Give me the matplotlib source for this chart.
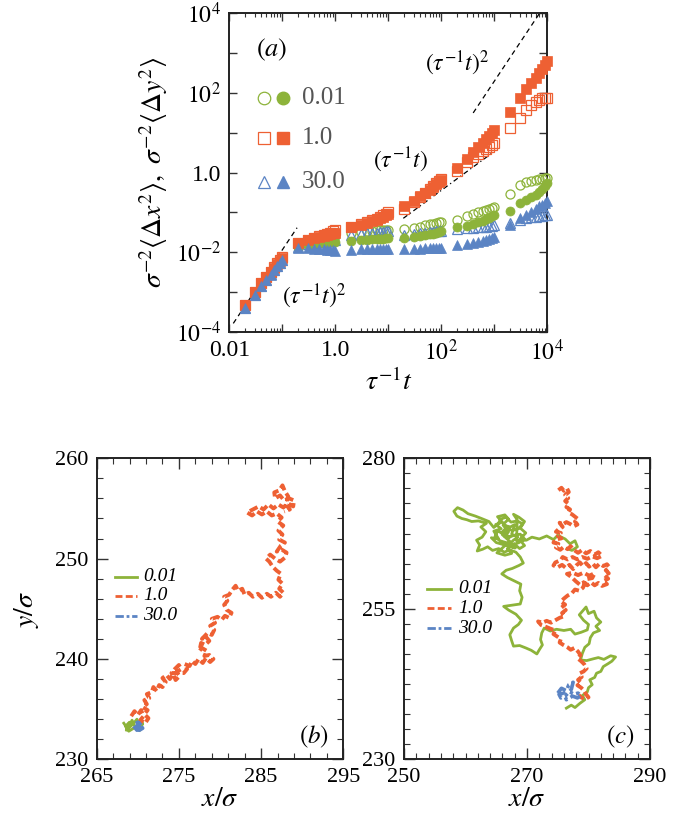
import matplotlib
matplotlib.use("Agg")
import matplotlib.pyplot as plt
from matplotlib.ticker import FixedLocator, FixedFormatter, LogLocator, NullFormatter, NullLocator, MultipleLocator

plt.rcParams['font.family'] = ['Liberation Serif', 'DejaVu Serif']
plt.rcParams['mathtext.fontset'] = 'stix'

GREEN = '#8db33a'
RED = '#ee6033'
BLUE = '#5b84c4'

# ==========================
# Panel (a) data: MSD vs tau^-1 t
# ==========================
t_vals = [0.02, 0.03, 0.04, 0.05, 0.06, 0.07, 0.08, 0.09, 0.1,
          0.2, 0.3, 0.4, 0.5, 0.6, 0.7, 0.8, 0.9, 1.0,
          2, 3, 4, 5, 6, 7, 8, 9, 10,
          20, 30, 40, 50, 60, 70, 80, 90, 100,
          200, 300, 400, 500, 600, 700, 800, 900, 1000,
          2000, 3000, 4000, 5000, 6000, 7000, 8000, 9000, 10000]

# open = <dx^2>, filled = <dy^2>
msd_001_open = [4.3e-4, 9.2e-4, 1.55e-3, 2.15e-3, 3.0e-3, 3.9e-3, 4.8e-3, 5.8e-3, 6.9e-3,
                0.014, 0.017, 0.019, 0.020, 0.021, 0.022, 0.023, 0.024, 0.025,
                0.030, 0.032, 0.033, 0.034, 0.035, 0.035, 0.036, 0.037, 0.037,
                0.038, 0.041, 0.044, 0.047, 0.050, 0.052, 0.054, 0.056, 0.058,
                0.064, 0.080, 0.090, 0.100, 0.108, 0.115, 0.122, 0.130, 0.138,
                0.29, 0.49, 0.58, 0.62, 0.65, 0.68, 0.70, 0.71, 0.72]
msd_001_fill = [4.2e-4, 9.0e-4, 1.5e-3, 2.1e-3, 2.9e-3, 3.8e-3, 4.7e-3, 5.7e-3, 6.7e-3,
                0.0135, 0.015, 0.016, 0.0165, 0.017, 0.017, 0.0175, 0.0175, 0.018,
                0.019, 0.020, 0.020, 0.021, 0.021, 0.021, 0.021, 0.022, 0.022,
                0.022, 0.024, 0.026, 0.027, 0.028, 0.029, 0.031, 0.032, 0.033,
                0.044, 0.046, 0.052, 0.057, 0.062, 0.068, 0.074, 0.080, 0.086,
                0.11, 0.17, 0.20, 0.24, 0.28, 0.33, 0.38, 0.45, 0.55]
msd_1_open = [4.6e-4, 1.0e-3, 1.7e-3, 2.4e-3, 3.25e-3, 4.2e-3, 5.2e-3, 6.3e-3, 7.5e-3,
              0.0165, 0.020, 0.022, 0.025, 0.027, 0.029, 0.031, 0.033, 0.035,
              0.044, 0.050, 0.057, 0.063, 0.069, 0.076, 0.084, 0.092, 0.100,
              0.12, 0.18, 0.24, 0.31, 0.38, 0.45, 0.53, 0.61, 0.70,
              1.1, 1.8, 2.4, 3.0, 3.5, 4.0, 4.5, 5.0, 5.4,
              13, 24, 37, 50, 60, 68, 73, 75, 75]
msd_1_fill = [4.6e-4, 1.0e-3, 1.65e-3, 2.35e-3, 3.2e-3, 4.1e-3, 5.1e-3, 6.1e-3, 7.3e-3,
              0.0165, 0.020, 0.022, 0.024, 0.026, 0.027, 0.028, 0.030, 0.031,
              0.042, 0.048, 0.054, 0.059, 0.065, 0.071, 0.078, 0.085, 0.092,
              0.14, 0.19, 0.25, 0.31, 0.37, 0.43, 0.50, 0.57, 0.64,
              1.3, 2.2, 3.2, 4.4, 5.6, 6.9, 8.3, 9.8, 11.5,
              34, 73, 124, 180, 240, 310, 390, 500, 650]
msd_30_open = [4.0e-4, 8.6e-4, 1.45e-3, 2.05e-3, 2.75e-3, 3.6e-3, 4.5e-3, 5.4e-3, 6.4e-3,
               0.0135, 0.016, 0.017, 0.018, 0.018, 0.019, 0.019, 0.020, 0.020,
               0.027, 0.029, 0.030, 0.031, 0.031, 0.032, 0.032, 0.033, 0.033,
               0.027, 0.029, 0.030, 0.031, 0.032, 0.032, 0.033, 0.034, 0.034,
               0.038, 0.040, 0.041, 0.042, 0.043, 0.044, 0.045, 0.046, 0.047,
               0.055, 0.065, 0.070, 0.075, 0.078, 0.080, 0.082, 0.084, 0.085]
msd_30_fill = [4.0e-4, 8.5e-4, 1.4e-3, 2.0e-3, 2.7e-3, 3.5e-3, 4.4e-3, 5.3e-3, 6.2e-3,
               0.0125, 0.0125, 0.012, 0.012, 0.0118, 0.0115, 0.0112, 0.011, 0.0108,
               0.0115, 0.012, 0.012, 0.0122, 0.0122, 0.0122, 0.0122, 0.0122, 0.0122,
               0.0118, 0.012, 0.0122, 0.0124, 0.0125, 0.0126, 0.0127, 0.0128, 0.013,
               0.015, 0.016, 0.017, 0.018, 0.019, 0.020, 0.021, 0.023, 0.024,
               0.048, 0.070, 0.085, 0.100, 0.120, 0.140, 0.155, 0.170, 0.190]

# guide lines
guide_lo_t, guide_lo_v = [0.0119, 0.19], [1.62e-4, 0.041]
guide_mid_t, guide_mid_v = [19.2, 893], [0.0707, 3.03]
guide_hi_t, guide_hi_v = [400, 7500], [31.4, 1.1e4]

# ==========================
# Panels (b), (c): trajectories (x, y)
# ==========================
traj_b_001 = [(268.3, 233.6), (268.8, 233.0), (269.3, 233.9), (269.7, 233.2), (268.9, 232.8),
              (268.5, 233.3), (269.0, 233.7), (268.6, 232.9), (269.4, 233.5), (269.9, 234.0),
              (270.3, 233.1), (270.6, 233.6), (270.2, 232.9)]
traj_b_1 = [(269.2, 234.3), (269.6, 234.8), (270.0, 234.4), (270.4, 234.9), (270.7, 234.3), (270.3, 233.9),
            (270.9, 233.6), (271.3, 234.1), (270.8, 234.5), (271.2, 234.9), (270.6, 235.2), (271.1, 235.5),
            (270.8, 235.9), (271.4, 236.1), (271.1, 236.5), (271.7, 236.7), (271.9, 237.2), (272.3, 236.8),
            (272.6, 237.4), (273.0, 237.2), (273.4, 237.7), (273.0, 238.1), (273.5, 238.4), (273.9, 238.0),
            (274.3, 238.5), (274.6, 237.9), (275.1, 238.3), (274.7, 238.7), (275.3, 239.0), (275.0, 239.4),
            (274.5, 239.0), (274.1, 238.6), (275.6, 238.6), (276.0, 239.0), (275.7, 239.5), (276.3, 239.3),
            (276.6, 239.8), (277.0, 239.5), (277.4, 240.0), (277.9, 239.6), (278.3, 240.1), (278.8, 239.7),
            (279.2, 240.0), (278.7, 240.4), (278.1, 240.3), (278.4, 240.8), (277.8, 241.1), (277.5, 240.8),
            (277.7, 241.6), (278.2, 241.4), (278.7, 241.8), (278.3, 242.2), (277.8, 242.0), (278.5, 242.6),
            (279.0, 242.4), (279.3, 242.9), (278.8, 243.3), (279.4, 243.6), (279.0, 244.0), (279.7, 244.2),
            (280.2, 243.9), (280.6, 244.3), (281.1, 244.1), (281.4, 244.6), (280.8, 244.9), (280.5, 245.4),
            (280.9, 245.8), (280.5, 246.2), (281.1, 246.4), (281.5, 246.9), (281.9, 247.3), (282.2, 246.8),
            (282.7, 247.0), (283.0, 246.4), (283.5, 246.6), (284.0, 246.2), (284.6, 246.5), (285.1, 246.1),
            (285.7, 246.5), (286.2, 246.2), (286.8, 246.6), (287.3, 246.2), (287.7, 246.6), (287.2, 247.0),
            (287.6, 247.5), (287.1, 247.9), (287.4, 248.5), (286.9, 248.8), (286.4, 249.2), (286.0, 249.7),
            (285.6, 250.0), (286.1, 250.4), (286.7, 250.0), (287.3, 249.7), (287.9, 250.1), (288.1, 250.6),
            (287.5, 250.9), (286.9, 250.7), (287.4, 251.3), (287.9, 251.6), (287.2, 251.9), (287.6, 252.4),
            (287.1, 252.8), (287.7, 253.3), (287.0, 253.7), (287.5, 254.1), (286.9, 254.5), (286.3, 254.3),
            (285.7, 254.7), (285.1, 254.4), (284.5, 254.7), (283.9, 254.3), (283.3, 254.6), (284.0, 254.9),
            (284.7, 255.2), (285.3, 254.9), (285.9, 255.4), (286.5, 255.0), (287.1, 255.4), (287.7, 255.1),
            (288.3, 255.5), (288.9, 255.2), (289.0, 255.8), (288.4, 256.0), (287.8, 255.8), (287.3, 256.3),
            (286.7, 256.0), (286.6, 256.6), (287.2, 256.8), (287.6, 257.3), (287.9, 256.7), (288.3, 256.2),
            (288.0, 255.4), (288.5, 254.9), (287.8, 254.7)]
traj_b_30 = [(269.5, 233.3), (269.9, 232.9), (270.4, 233.4), (270.0, 233.7), (270.6, 233.1),
             (270.2, 232.9), (269.7, 233.6), (270.5, 233.7), (269.8, 233.2), (270.3, 233.5)]

traj_c_001 = [(276.4, 238.5), (277.2, 239.0), (277.8, 238.6), (278.6, 239.3), (279.4, 239.9), (279.0, 240.6),
              (279.8, 241.2), (280.0, 241.9), (280.6, 242.4), (280.2, 243.2), (281.0, 243.6), (281.3, 244.3),
              (282.0, 244.6), (282.4, 245.4), (283.2, 245.9), (283.8, 246.3), (284.4, 247.0), (283.6, 247.2),
              (282.5, 246.6), (281.6, 246.9), (280.8, 246.7), (279.7, 246.4), (278.7, 246.5), (279.0, 247.6),
              (279.4, 248.6), (280.1, 249.2), (280.3, 250.2), (280.8, 251.0), (281.8, 251.4), (281.2, 252.1),
              (282.0, 252.8), (281.3, 253.5), (280.9, 254.6), (280.0, 254.2), (279.6, 255.3), (279.0, 254.6),
              (278.5, 254.0), (279.2, 253.1), (280.0, 252.4), (279.8, 251.5), (278.8, 251.1), (277.8, 250.8),
              (277.1, 251.6), (276.0, 251.4), (274.8, 251.6), (273.8, 251.3), (272.8, 251.8), (272.4, 251.0),
              (272.2, 249.9), (272.5, 249.0), (272.0, 248.2), (271.6, 247.5), (270.7, 248.1), (269.8, 248.5),
              (268.8, 248.9), (267.8, 248.8), (267.5, 249.7), (267.2, 250.7), (267.8, 251.8), (268.6, 252.4),
              (269.1, 253.1), (268.2, 254.1), (267.0, 254.8), (266.2, 255.4), (267.5, 255.6), (268.9, 255.8),
              (269.2, 256.9), (268.8, 258.0), (269.0, 259.1), (268.0, 259.6), (266.8, 260.2), (265.9, 260.8),
              (266.6, 261.4), (267.6, 261.7), (268.7, 262.2), (269.4, 262.6), (268.9, 263.6), (268.2, 264.4),
              (267.2, 264.8), (266.3, 264.4), (265.4, 265.0), (264.4, 264.7), (263.6, 265.3), (262.8, 264.9),
              (261.9, 264.6), (262.3, 265.6), (261.8, 266.4), (262.7, 266.9), (263.3, 267.8), (262.5, 268.6),
              (263.4, 269.2), (262.1, 269.6), (261.0, 269.5), (260.2, 269.8), (259.4, 270.0), (258.6, 270.4),
              (258.1, 271.2), (258.7, 271.8), (259.6, 271.4), (260.4, 270.8), (261.6, 270.4), (262.6, 270.0),
              (263.8, 269.5), (264.6, 268.5), (265.3, 269.1), (265.7, 269.9), (266.6, 270.2), (267.4, 269.4),
              (268.4, 269.6), (269.3, 269.1), (268.6, 268.3), (267.6, 268.0), (266.6, 268.4), (265.8, 267.6),
              (266.8, 266.8), (267.9, 267.2), (268.9, 267.4), (269.6, 266.6), (268.7, 266.0), (267.6, 265.6),
              (266.6, 266.0), (265.6, 266.3), (264.8, 267.0), (265.2, 267.9), (266.2, 267.5), (267.2, 266.9),
              (266.4, 267.0), (267.0, 267.8), (266.1, 268.9), (267.3, 268.6), (268.0, 269.0), (267.5, 267.4),
              (268.5, 266.9), (267.8, 266.4), (266.9, 265.5), (268.1, 265.1), (265.0, 266.0), (264.2, 266.8),
              (265.4, 266.6), (264.6, 267.9), (265.8, 268.3), (264.9, 269.0), (266.0, 269.4), (265.2, 270.3),
              (266.4, 270.6), (267.0, 269.9), (266.2, 269.1), (267.1, 268.2), (266.0, 267.3), (267.2, 266.2),
              (266.1, 265.2), (265.1, 264.3), (266.4, 263.9), (267.5, 264.2), (266.8, 265.0), (267.9, 265.8),
              (268.8, 265.0), (269.6, 265.5), (268.8, 266.5), (269.8, 267.6), (268.9, 268.4), (269.6, 269.5),
              (268.7, 270.2), (267.8, 270.7), (268.4, 269.8), (268.3, 266.3), (269.9, 266.4),
              (270.8, 266.9), (272.0, 266.6), (273.2, 267.1), (274.3, 266.5), (275.0, 267.2), (276.2, 266.6),
              (277.0, 265.8), (277.8, 266.3), (278.2, 265.3), (277.3, 264.7), (276.5, 265.0)]
traj_c_1 = [(275.1, 274.7), (275.6, 275.1), (276.0, 274.6), (276.5, 275.0), (276.8, 274.4), (276.2, 273.9),
            (276.7, 273.4), (276.2, 272.9), (276.8, 272.4), (276.4, 271.9), (277.0, 271.5), (276.7, 271.0),
            (277.3, 270.7), (277.8, 270.3), (278.3, 269.9), (277.8, 269.5), (278.2, 269.0), (277.6, 268.7),
            (277.0, 269.1), (276.4, 269.4), (275.8, 269.0), (275.3, 269.3), (275.8, 268.6), (275.1, 268.2),
            (274.7, 267.8), (275.5, 267.6), (275.0, 267.1), (275.6, 266.7), (274.6, 266.5), (274.3, 266.0),
            (275.1, 265.8), (274.7, 265.2), (275.4, 264.8), (276.0, 265.3), (276.6, 264.9), (277.1, 265.4),
            (277.6, 264.8), (278.3, 264.3), (279.0, 264.8), (279.6, 264.2), (280.3, 264.6), (281.0, 264.0),
            (281.6, 264.4), (282.2, 263.8), (281.4, 263.4), (280.6, 263.7), (279.8, 263.3), (279.0, 263.6),
            (278.2, 263.2), (277.4, 263.6), (276.6, 263.2), (275.8, 263.6), (275.5, 263.1), (274.6, 262.7),
            (274.3, 262.2), (275.0, 261.9), (275.7, 262.3), (276.3, 261.8), (276.9, 262.3), (277.5, 261.6),
            (278.0, 262.2), (278.6, 262.7), (279.1, 262.1), (279.6, 262.6), (280.1, 262.0), (280.7, 262.5),
            (281.2, 261.9), (281.8, 262.5), (282.4, 262.1), (283.0, 262.4), (283.4, 261.9), (282.8, 261.4),
            (283.3, 260.9), (282.6, 260.6), (283.2, 260.0), (282.4, 259.6), (283.0, 259.1), (282.2, 258.8),
            (281.6, 259.3), (281.0, 258.9), (280.4, 259.4), (279.8, 258.9), (279.2, 259.4), (278.6, 259.0),
            (277.9, 259.6), (277.2, 260.3), (276.5, 260.8), (277.4, 261.0), (278.3, 260.6), (279.2, 261.0),
            (280.1, 260.5), (281.0, 260.9), (280.6, 260.1), (279.6, 259.9), (279.1, 258.5), (278.5, 258.0),
            (277.8, 258.2), (277.3, 257.6), (276.6, 257.2), (276.0, 256.7), (275.5, 256.2), (276.2, 255.7),
            (275.6, 255.2), (276.3, 254.8), (275.7, 254.3), (276.1, 253.8), (275.3, 253.5), (274.6, 253.1),
            (273.9, 252.7), (273.2, 253.0), (272.5, 252.7), (271.8, 252.9), (272.3, 252.3), (273.1, 252.0),
            (273.8, 251.7), (274.6, 251.4), (274.3, 250.8), (274.9, 250.4), (275.5, 250.0), (275.3, 249.4),
            (275.9, 249.0), (276.6, 248.6), (277.1, 248.2), (277.7, 248.5), (278.3, 247.9), (278.7, 247.3),
            (278.2, 246.8), (278.8, 246.3), (279.3, 245.8), (279.7, 245.1), (279.2, 244.6), (278.6, 244.3),
            (278.9, 243.7), (278.3, 243.2), (278.8, 242.7), (278.2, 242.3), (278.8, 241.9), (279.3, 241.4),
            (279.6, 240.8), (280.0, 240.3), (279.4, 240.0), (278.8, 240.3), (278.4, 240.7)]
traj_c_30 = [(275.0, 241.0), (275.6, 241.8), (276.4, 241.4), (276.8, 242.4), (277.5, 242.8), (277.2, 241.6),
             (276.3, 240.6), (275.5, 240.2), (275.2, 240.8), (276.0, 241.0), (276.4, 239.9), (277.4, 240.5),
             (278.2, 240.2), (278.8, 240.6), (278.3, 241.0), (277.6, 240.8), (277.0, 241.2)]

labels = ['0.01', '1.0', '30.0']

fig = plt.figure(figsize=(6.89, 8.25), dpi=100)

# ==========================
# Panel (a)
# ==========================
ax = fig.add_axes([0.3328, 0.5979, 0.4615, 0.386])
ax.set_xscale('log')
ax.set_yscale('log')

series = [(msd_001_open, msd_001_fill, 'o', GREEN),
          (msd_1_open, msd_1_fill, 's', RED),
          (msd_30_open, msd_30_fill, '^', BLUE)]
for opn, fil, mk, col in series:
    ax.plot(t_vals, opn, mk, ms=6.5, mfc='none', mec=col, mew=0.9, ls='none', clip_on=False, zorder=3)
for opn, fil, mk, col in series:
    ax.plot(t_vals, fil, mk, ms=6.5, mfc=col, mec=col, mew=0.5, ls='none', clip_on=False, zorder=4)

ax.plot(guide_lo_t, guide_lo_v, color='k', lw=0.9, dashes=(4, 3))
ax.plot(guide_mid_t, guide_mid_v, color='k', lw=0.9, dashes=(4, 2.5, 1, 2.5))
ax.plot(guide_hi_t, guide_hi_v, color='k', lw=0.9, dashes=(4, 3))

ax.text(198, 560, r'$(\tau^{-1}t)^2$', fontsize=17, ha='center', va='center')
ax.text(17.4, 2.06, r'$(\tau^{-1}t)$', fontsize=17, ha='center', va='center')
ax.text(0.40, 7.9e-4, r'$(\tau^{-1}t)^2$', fontsize=17, ha='center', va='center')
ax.text(0.133, 0.885, r'$(a)$', fontsize=19, ha='center', va='center', transform=ax.transAxes)

# legend drawn by hand
leg_rows = [0.733, 0.607, 0.471]
for (opn, fil, mk, col), lab, yy in zip(series, labels, leg_rows):
    ax.plot([0.109], [yy], mk, ms=9, mfc='none', mec=col, mew=0.9, transform=ax.transAxes)
    ax.plot([0.168], [yy], mk, ms=9, mfc=col, mec=col, transform=ax.transAxes)
    ax.text(0.228, yy, lab, fontsize=18, color='#555555', ha='left', va='center', transform=ax.transAxes)

ax.set_xlim(0.01, 1e4)
ax.set_ylim(1e-4, 1e4)
ax.xaxis.set_major_locator(FixedLocator([1e-2, 1e-1, 1, 10, 100, 1e3, 1e4]))
ax.xaxis.set_major_formatter(FixedFormatter(['0.01', '', '1.0', '', r'$10^2$', '', r'$10^4$']))
ax.xaxis.set_minor_locator(LogLocator(base=10, subs=range(2, 10), numticks=20))
ax.xaxis.set_minor_formatter(NullFormatter())
ax.yaxis.set_major_locator(FixedLocator([1e-4, 1e-3, 1e-2, 1e-1, 1, 10, 100, 1e3, 1e4]))
ax.yaxis.set_major_formatter(FixedFormatter([r'$10^{-4}$', '', r'$10^{-2}$', '', '1.0', '', r'$10^2$', '', r'$10^4$']))
ax.yaxis.set_minor_locator(NullLocator())
ax.tick_params(which='both', direction='in', top=True, right=True, labelsize=17, color='#333333')
ax.tick_params(which='major', length=6, width=1.0, pad=6)
ax.tick_params(which='minor', length=3, width=0.8)
for sp in ax.spines.values():
    sp.set_linewidth(1.4)
    sp.set_color('#222222')
ax.set_xlabel(r'$\tau^{-1}t$', fontsize=20, labelpad=2)
ax.set_ylabel(r'$\sigma^{-2}\langle\Delta x^2\rangle,\ \sigma^{-2}\langle\Delta y^2\rangle$', fontsize=20, labelpad=4)

# ==========================
# Panels (b) and (c)
# ==========================
def traj_panel(rect, trajs, xlim, ylim, xloc, yloc, tag, leg_x, leg_y, show_ylabel):
    axp = fig.add_axes(rect)
    styles = [dict(color=GREEN, ls='-', lw=2.0),
              dict(color=RED, dashes=(2.2, 0.9), lw=2.8),
              dict(color=BLUE, dashes=(3, 1, 1, 1), lw=2.6)]
    for tr, st in zip(trajs, styles):
        xs = [p[0] for p in tr]
        ys = [p[1] for p in tr]
        axp.plot(xs, ys, **st)
    leg_styles = [dict(color=GREEN, ls='-', lw=2.0),
                  dict(color=RED, dashes=(2.5, 1.2), lw=2.0),
                  dict(color=BLUE, dashes=(3, 1, 1, 1), lw=2.0)]
    for st, lab, yy in zip(leg_styles, labels, leg_y):
        axp.plot(leg_x[:2], [yy, yy], transform=axp.transAxes, **st)
        axp.text(leg_x[2], yy, lab, fontsize=14, style='italic', ha='left', va='center',
                 transform=axp.transAxes)
    axp.text(0.88, 0.076, tag, fontsize=18, ha='center', va='center', transform=axp.transAxes)
    axp.set_xlim(*xlim)
    axp.set_ylim(*ylim)
    axp.xaxis.set_major_locator(MultipleLocator(*xloc[0]))
    axp.xaxis.set_minor_locator(MultipleLocator(*xloc[1]))
    axp.yaxis.set_major_locator(MultipleLocator(*yloc[0]))
    axp.yaxis.set_minor_locator(MultipleLocator(*yloc[1]))
    axp.tick_params(which='both', direction='in', top=True, right=True, labelsize=16, color='#333333')
    axp.tick_params(which='major', length=8, width=1.0, pad=6)
    axp.tick_params(which='minor', length=4, width=0.8)
    for sp in axp.spines.values():
        sp.set_linewidth(1.4)
        sp.set_color('#222222')
    axp.set_xlabel(r'$x/\sigma$', fontsize=20, labelpad=0)
    if show_ylabel:
        axp.set_ylabel(r'$y/\sigma$', fontsize=20, labelpad=10)
    return axp

traj_panel([0.1403, 0.0796, 0.358, 0.3649], [traj_b_001, traj_b_1, traj_b_30],
           (265, 295), (230, 260), ((10, 5), (2, 1)), ((10, 0), (2, 0)), r'$(b)$',
           [0.074, 0.164, 0.188], [0.607, 0.543, 0.477], True)
traj_panel([0.5864, 0.0796, 0.357, 0.3649], [traj_c_001, traj_c_1, traj_c_30],
           (250, 290), (230, 280), ((20, 10), (2, 0)), ((25, 5), (2.5, 0)), r'$(c)$',
           [0.093, 0.191, 0.22], [0.566, 0.502, 0.435], False)

fig.savefig('out.png', dpi=100)
